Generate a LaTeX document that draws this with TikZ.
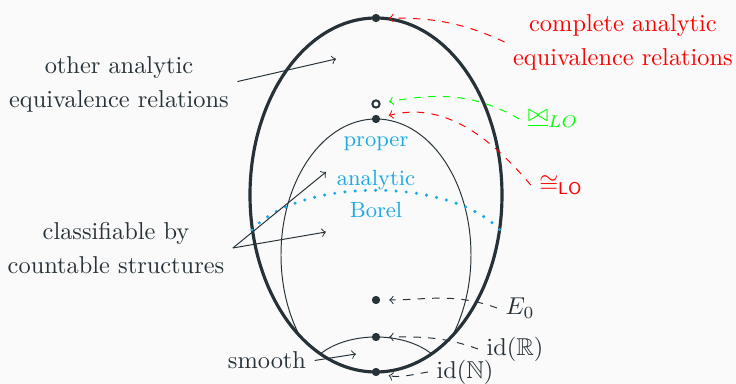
\documentclass[tikz,border=0pt]{standalone}
\usepackage{amsmath, amssymb}
\usepackage{xcolor}
\usetikzlibrary{calc}

\definecolor{slate}{HTML}{263238}
\definecolor{sky}{RGB}{25,170,230}
\definecolor{paper}{HTML}{FAFAFA}

\begin{document}
\begin{tikzpicture}[
    x=0.41pt, y=0.41pt,
    dot/.style={circle, fill=slate, inner sep=0pt, minimum size=3.4pt},
    opendot/.style={circle, draw=slate, fill=paper, line width=0.8pt, inner sep=0pt, minimum size=3pt},
    lbl/.style={align=center, text=slate},
    region/.style={text=sky, font=\small},
    arrow/.style={->, slate, thin},
    dasharrow/.style={->, dashed, thin, shorten >=3.5pt}
]

% Canvas
\useasboundingbox (0,0) rectangle (736,384);
\fill[paper] (0,0) rectangle (736,384);

% Inner regions, cut to the outer egg
\begin{scope}
    \clip (376,189) ellipse [x radius=126, y radius=177];
    \draw[slate, thin] (376,129) ellipse [x radius=95, y radius=136];
    \draw[slate, thin] (376,4) ellipse [x radius=70, y radius=43];
\end{scope}
\draw[slate, line width=1.3pt] (376,189) ellipse [x radius=126, y radius=177];
\draw[sky, line width=1.4pt, line cap=round, dash pattern=on 0pt off 4.2pt] (252,154) .. controls (300,207) and (450,207) .. (500,154);

% Region names
\node[region] (proper) at (376,240) {proper};
\node[region] (analytic) at (376,204) {analytic};
\node[region] (borel) at (376,174) {Borel};

% Points
\node[dot] (top) at (376,366) {};
\node[opendot] (bowtiept) at (376,280) {};
\node[dot] (loiso) at (376,265) {};
\node[dot] (ezeropt) at (376,84) {};
\node[dot] (idRpt) at (376,47) {};
\node[dot] (idNpt) at (376,12) {};

% Labels
\node[lbl] (other) at (119,300) {other analytic\\[2pt] equivalence relations};
\node[lbl] (classif) at (116,136) {classifiable by\\[2pt] countable structures};
\node[lbl] (smooth) at (267,23.5) {smooth};
\node[lbl, text=red] (complete) at (623,342) {complete analytic\\[2pt] equivalence relations};
\node[text=green] (bowtie) at (553,265) {$\underline{\bowtie}_{LO}$};
\node[text=red] (congLO) at (561,199) {$\cong_{\mathsf{LO}}$};
\node[lbl] (Ezero) at (520,76) {$E_0$};
\node[lbl] (idR) at (515,35) {$\mathrm{id}(\mathbb{R})$};
\node[lbl] (idN) at (465,12) {$\mathrm{id}(\mathbb{N})$};

% Solid pointers
\coordinate (otherTip) at (336,325);
\coordinate (classTipA) at (326,212);
\coordinate (classTipB) at (326,152);
\coordinate (smoothTip) at (356,30);
\draw[arrow] ([yshift=1pt]other.east) -- (otherTip);
\draw[arrow] (classif.east) -- (classTipA);
\draw[arrow] (classif.east) -- (classTipB);
\draw[arrow] (smooth.east) -- (smoothTip);

% Dashed pointers
\draw[dasharrow, red] (complete.west) to[out=155, in=0] (top);
\draw[dasharrow, green] (bowtie.west) to[out=150, in=10] (bowtiept);
\draw[dasharrow, red] (congLO.west) to[out=130, in=15] (loiso);
\draw[dasharrow, slate] (Ezero.west) to[out=160, in=0] (ezeropt);
\draw[dasharrow, slate] (idR.west) to[out=160, in=0] (idRpt);
\draw[dasharrow, slate] (idN.west) to[out=190, in=-15] (idNpt);

\end{tikzpicture}
\end{document}
